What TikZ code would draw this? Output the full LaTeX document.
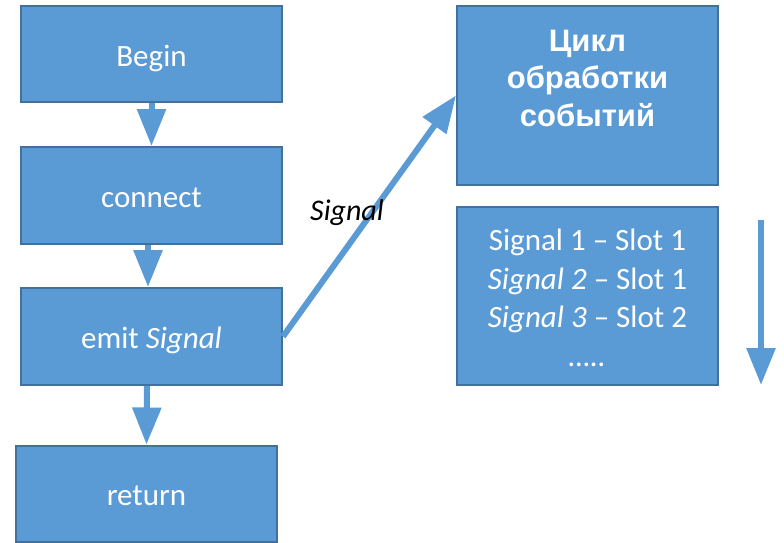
\documentclass[tikz,border=0pt]{standalone}
\usepackage{fontspec}
\setmainfont{Carlito}
\newfontfamily\arialfont{Liberation Sans}
\usetikzlibrary{arrows.meta}
\definecolor{boxfill}{HTML}{5B9BD5}
\definecolor{boxline}{HTML}{41719C}
\begin{document}
\begin{tikzpicture}[x=1pt,y=-1pt,
  box/.style={draw=boxline, fill=boxfill, line width=2pt, text=white,
    font=\fontsize{31}{37}\selectfont, inner sep=0pt, align=center,
    minimum width=261pt},
  onel/.style={text height=30pt, text depth=6pt},
  flow/.style={draw=boxfill, line width=6pt, -{Triangle[width=28pt,length=37pt]}}]
\useasboundingbox (0,0) rectangle (784,542);
\node[box, onel, minimum height=96pt] (begin) at (151.5,54) {Begin};
\node[box, onel, minimum height=97pt] (connect) at (151.5,195.5) {connect};
\node[box, onel, minimum height=97pt] (emit) at (151.5,336.5) {emit \textit{Signal}};
\node[box, onel, minimum height=96pt] (ret) at (146.5,493.5) {return};
\node[box, minimum height=179pt] (cycle) at (587.5,95.5) {};
\node[text=white, font=\arialfont\bfseries\fontsize{31}{37.5}\selectfont, align=center] (cyclet) at (587.5,78) {Цикл\\обработки\\событий};
\node[box, minimum height=178pt, font=\fontsize{31}{38.5}\selectfont] (queue) at (587.5,296)
  {};
\node[text=white, font=\fontsize{31}{38.5}\selectfont, align=center, inner sep=0pt] (queuet) at (587.5,298)
  {Signal 1 – Slot 1\\\textit{Signal 2} – Slot 1\\\textit{Signal 3} – Slot 2\\\textit{…..}};
\draw[flow] (begin.south) -- (connect.north);
\draw[flow] ([xshift=-3.5pt]connect.south) -- ([xshift=-3.5pt]emit.north);
\draw[flow] ([xshift=-4.5pt]emit.south) -- (ret.north);
\draw[flow] (emit.east) -- (cycle.west);
\node[font=\itshape\fontsize{30}{35}\selectfont] (siglabel) at (347,213) {Signal};
\coordinate (qtop) at (761,220);
\coordinate (qbot) at (761,385);
\draw[flow] (qtop) -- (qbot);
\end{tikzpicture}
\end{document}
